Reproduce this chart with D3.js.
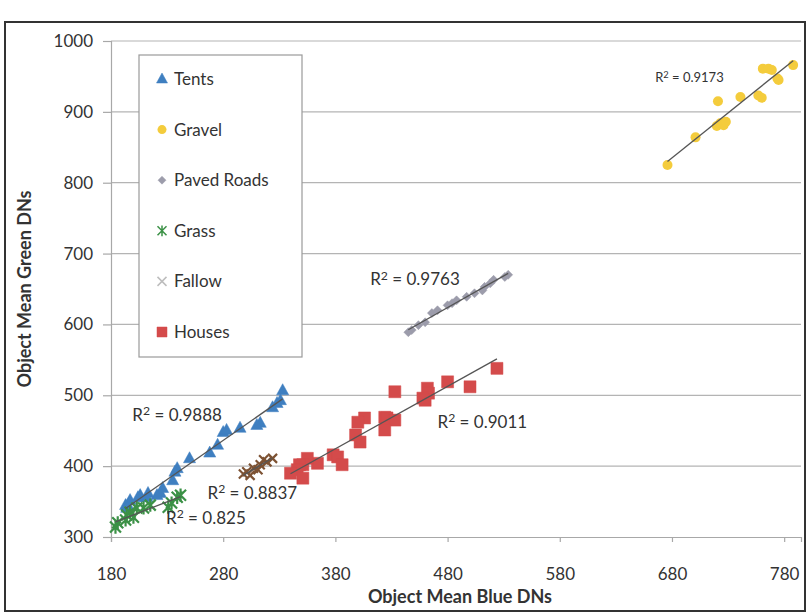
<!DOCTYPE html>
<html>
<head>
<meta charset="utf-8">
<script src="https://cdn.jsdelivr.net/npm/d3@7"></script>
<style>
  body { margin: 0; background: #fff; }
  text { font-family: Lato, "Open Sans", sans-serif; fill: #333; }
</style>
</head>
<body>
<script>
// values [blue DN, green DN]
const tents = [[333,507],[331,493],[328,489],[324,483],[313,461],[310,458],[295,454],[280,448],[283,451],[275,430],[268,419],[250,411],[239,397],[237,392],[235,380],[226,369],[224,362],[221,359],[213,362],[212,356],[206,359],[204,356],[197,352],[195,345],[193,345],[194,341]];
const gravel = [[676,825],[701,864],[720,880],[723,884],[726,881],[728,886],[721,915],[741,921],[757,923],[760,920],[761,961],[766,961],[769,959],[774,947],[775,945],[788,966]];
const paved = [[534,670],[531,667],[521,663],[518,658],[513,653],[511,648],[504,644],[497,639],[488,634],[484,630],[480,627],[471,620],[466,616],[460,603],[454,599],[448,592],[445,589]];
const grass = [[242,359],[239,356],[234,348],[231,342],[215,345],[209,341],[203,341],[200,328],[197,335],[194,331],[193,324],[186,320],[184,314]];
const fallow = [[298,389],[301,392],[304,387],[307,397],[311,395],[313,402],[316,409],[319,406],[324,411]];
const houses = [[524,538],[500,512],[480,519],[462,510],[463,503],[458,496],[460,493],[433,505],[424,469],[426,468],[433,465],[424,451],[406,468],[400,462],[398,444],[402,434],[378,416],[382,413],[386,402],[364,404],[355,411],[351,402],[348,402],[346,395],[340,390],[351,383]];

const seriesNames = ['Tents', 'Gravel', 'Paved Roads', 'Grass', 'Fallow', 'Houses'];
const r2Values = ['0.9888', '0.9173', '0.9763', '0.825', '0.8837', '0.9011'];
const xTicks = [180, 280, 380, 480, 580, 680, 780];
const yTicks = [300, 400, 500, 600, 700, 800, 900, 1000];

const w = 811, h = 613;

const x = d3.scaleLinear().domain([180, 795]).range([111, 801]);
const y = d3.scaleLinear().domain([300, 1000]).range([537, 41]);

const svg = d3.select('body').append('svg').attr('width', w).attr('height', h);

// outer frame
svg.append('rect').attr('x', 5).attr('y', 22).attr('width', 800).attr('height', 589)
  .attr('fill', '#fff').attr('stroke', '#333').attr('stroke-width', 2);

// gridlines
svg.append('g').selectAll('line').data(yTicks.slice(1)).enter().append('line')
  .attr('x1', x(180)).attr('x2', x(795))
  .attr('y1', d => y(d)).attr('y2', d => y(d))
  .attr('stroke', '#b4b4b4').attr('stroke-width', 1.2);

// axes
const xAxis = d3.axisBottom(x).tickValues(xTicks).tickSize(5).tickPadding(26).tickFormat(d3.format('d'));
const yAxis = d3.axisLeft(y).tickValues(yTicks).tickSize(8).tickPadding(10).tickFormat(d3.format('d'));

const gx = svg.append('g').attr('transform', `translate(0, ${y(300)})`).call(xAxis);
const gy = svg.append('g').attr('transform', `translate(${x(180)}, 0)`).call(yAxis);
[gx, gy].forEach(g => {
  g.select('.domain').attr('stroke', '#a8a8a8').attr('stroke-width', 1.2);
  g.selectAll('.tick line').attr('stroke', '#a8a8a8').attr('stroke-width', 1.2);
  g.selectAll('.tick text').style('font-family', 'Lato, sans-serif').style('font-size', '17px').attr('fill', '#333');
});

svg.append('text').attr('x', 460).attr('y', 603).attr('text-anchor', 'middle')
  .style('font-size', '18px').style('font-weight', 'bold').text('Object Mean Blue DNs');
svg.append('text').attr('transform', 'translate(31, 289) rotate(-90)').attr('text-anchor', 'middle')
  .style('font-size', '18px').style('font-weight', 'bold').text('Object Mean Green DNs');

// marker shapes
const tri = s => `M0,${-s*0.6}L${s*0.55},${s*0.4}L${-s*0.55},${s*0.4}Z`;
const sq = s => `M${-s/2},${-s/2}h${s}v${s}h${-s}Z`;
const dia = s => `M0,${-s/2}L${s/2},0L0,${s/2}L${-s/2},0Z`;
const cross = s => `M${-s/2},${-s/2}L${s/2},${s/2}M${s/2},${-s/2}L${-s/2},${s/2}`;
const star = s => `M${-s/2},${-s/2}L${s/2},${s/2}M${s/2},${-s/2}L${-s/2},${s/2}M0,${-s*0.6}L0,${s*0.6}`;

const series = [
  {data: tents, color: '#3f7fc0', path: tri(11), fill: true},
  {data: gravel, color: '#f4cc3c', circle: 5, fill: true},
  {data: paved, color: '#9c9cab', path: dia(9), fill: true},
  {data: grass, color: '#3b9146', path: star(11), fill: false, sw: 2.2},
  {data: fallow, color: '#7d5233', path: cross(9), fill: false, sw: 2.2},
  {data: houses, color: '#d44b4b', path: sq(12), fill: true}
];

// linear least-squares trendline for each series
function fit(data) {
  const mx = d3.mean(data, d => d[0]), my = d3.mean(data, d => d[1]);
  const b = d3.sum(data, d => (d[0]-mx)*(d[1]-my)) / d3.sum(data, d => (d[0]-mx)**2);
  const a = my - b*mx;
  const [x0, x1] = d3.extent(data, d => d[0]);
  return [[x0, a + b*x0], [x1, a + b*x1]];
}

series.forEach(s => {
  const g = svg.append('g');
  if (s.circle) {
    g.selectAll('circle').data(s.data).enter().append('circle')
      .attr('cx', d => x(d[0])).attr('cy', d => y(d[1])).attr('r', s.circle)
      .attr('fill', s.color);
  } else {
    g.selectAll('path').data(s.data).enter().append('path')
      .attr('d', s.path)
      .attr('transform', d => `translate(${x(d[0])},${y(d[1])})`)
      .attr('fill', s.fill ? s.color : 'none')
      .attr('stroke', s.color).attr('stroke-width', s.sw || 0.5);
  }
});

series.forEach(s => {
  svg.append('path').datum(fit(s.data))
    .attr('d', d3.line().x(d => x(d[0])).y(d => y(d[1])))
    .attr('stroke', '#555').attr('stroke-width', 1.3).attr('fill', 'none');
});

// R² labels: anchor in data units, font size
const r2Layout = [[199, 464, 17], [665, 942, 13], [411, 655, 17], [229, 318, 17], [266, 354, 17], [471, 454, 17]];
r2Values.forEach((v, i) => {
  const [lx, ly, fs] = r2Layout[i];
  const t = svg.append('text').attr('x', x(lx)).attr('y', y(ly)).style('font-size', fs + 'px');
  t.append('tspan').text('R');
  t.append('tspan').attr('dy', -fs*0.35).style('font-size', (fs*0.72) + 'px').text('2');
  t.append('tspan').attr('dy', fs*0.35).text(' = ' + v);
});

// legend
const leg = svg.append('g');
leg.append('rect').attr('x', 139).attr('y', 55).attr('width', 163).attr('height', 302)
  .attr('fill', '#fff').attr('stroke', '#9a9a9a').attr('stroke-width', 1.2);
const legendColors = ['#3f7fc0', '#f4cc3c', '#9c9cab', '#3b9146', '#bdbdbd', '#d44b4b'];
seriesNames.forEach((name, i) => {
  const ly = 79 + i * 50.6;
  const s = series[i];
  if (s.circle) {
    leg.append('circle').attr('cx', 162).attr('cy', ly).attr('r', 4.5).attr('fill', s.color);
  } else {
    const shape = i === 0 ? tri(10) : i === 2 ? dia(8) : i === 5 ? sq(10) : i === 3 ? star(9) : cross(9);
    leg.append('path').attr('d', shape).attr('transform', `translate(162,${ly})`)
      .attr('fill', s.fill ? legendColors[i] : 'none')
      .attr('stroke', legendColors[i]).attr('stroke-width', s.fill ? 0.5 : 1.5);
  }
  leg.append('text').attr('x', 174).attr('y', ly + 6).style('font-size', '17px').text(name);
});
</script>
</body>
</html>
